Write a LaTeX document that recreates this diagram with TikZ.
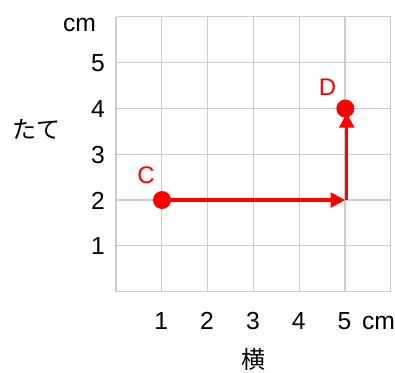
\documentclass[tikz,border=0pt]{standalone}
\usepackage{fontspec}
\setmainfont{Liberation Sans}
\newfontfamily\cjk{Noto Sans CJK JP}
\usetikzlibrary{arrows.meta}
\begin{document}
\begin{tikzpicture}[x=0.75pt,y=-0.75pt,
  gridline/.style={draw=black!20,line width=0.8pt},
  numlbl/.style={font=\fontsize{18.5}{18.5}\selectfont,text=black,inner sep=0pt,anchor=base},
  ptlbl/.style={font=\fontsize{18}{18}\selectfont,text=red,inner sep=0pt,anchor=base},
  jplbl/.style={font=\cjk\fontsize{18}{18}\selectfont,inner sep=0pt},
  dot/.style={circle,fill=red,minimum size=13.5pt,inner sep=0pt},
  move/.style={draw=red,line width=2.6pt,-{Triangle[length=11pt,width=11pt]}}]
\useasboundingbox (0,0) rectangle (395,372);
% grid
\foreach \i in {0,...,6} {
  \draw[gridline] (116+45.8*\i,16.7) -- (116+45.8*\i,291.7);
  \draw[gridline] (116,16.7+45.83*\i) -- (390.8,16.7+45.83*\i);
}
% x labels
\foreach \i in {1,...,5} {
  \node[numlbl] (x\i) at (116+45.8*\i-0.5,329.5) {\i};
}
\node[numlbl] (xcm) at (378.5,329.5) {cm};
% y labels
\foreach \i in {1,...,5} {
  \node[numlbl] (y\i) at (98,291.7-45.83*\i+9) {\i};
}
\node[numlbl] (ycm) at (79.5,31) {cm};
\node[jplbl] (yoko) at (253,359) {横};
\node[jplbl] (tate) at (36.5,129.5) {たて};
% points
\coordinate (Cp) at (162,200);
\coordinate (Dp) at (345.3,108.5);
\coordinate (turn) at (346.7,200);
\coordinate (hend) at (345.2,200);
\coordinate (vend) at (346.7,113);
\draw[move] (Cp) -- (hend);
\draw[move,line cap=butt] (turn) -- (vend);
\node[dot] (C) at (Cp) {};
\node[dot] (D) at (Dp) {};
\node[ptlbl] (Cl) at (146,183) {C};
\node[ptlbl] (Dl) at (327.5,95) {D};
\end{tikzpicture}
\end{document}
